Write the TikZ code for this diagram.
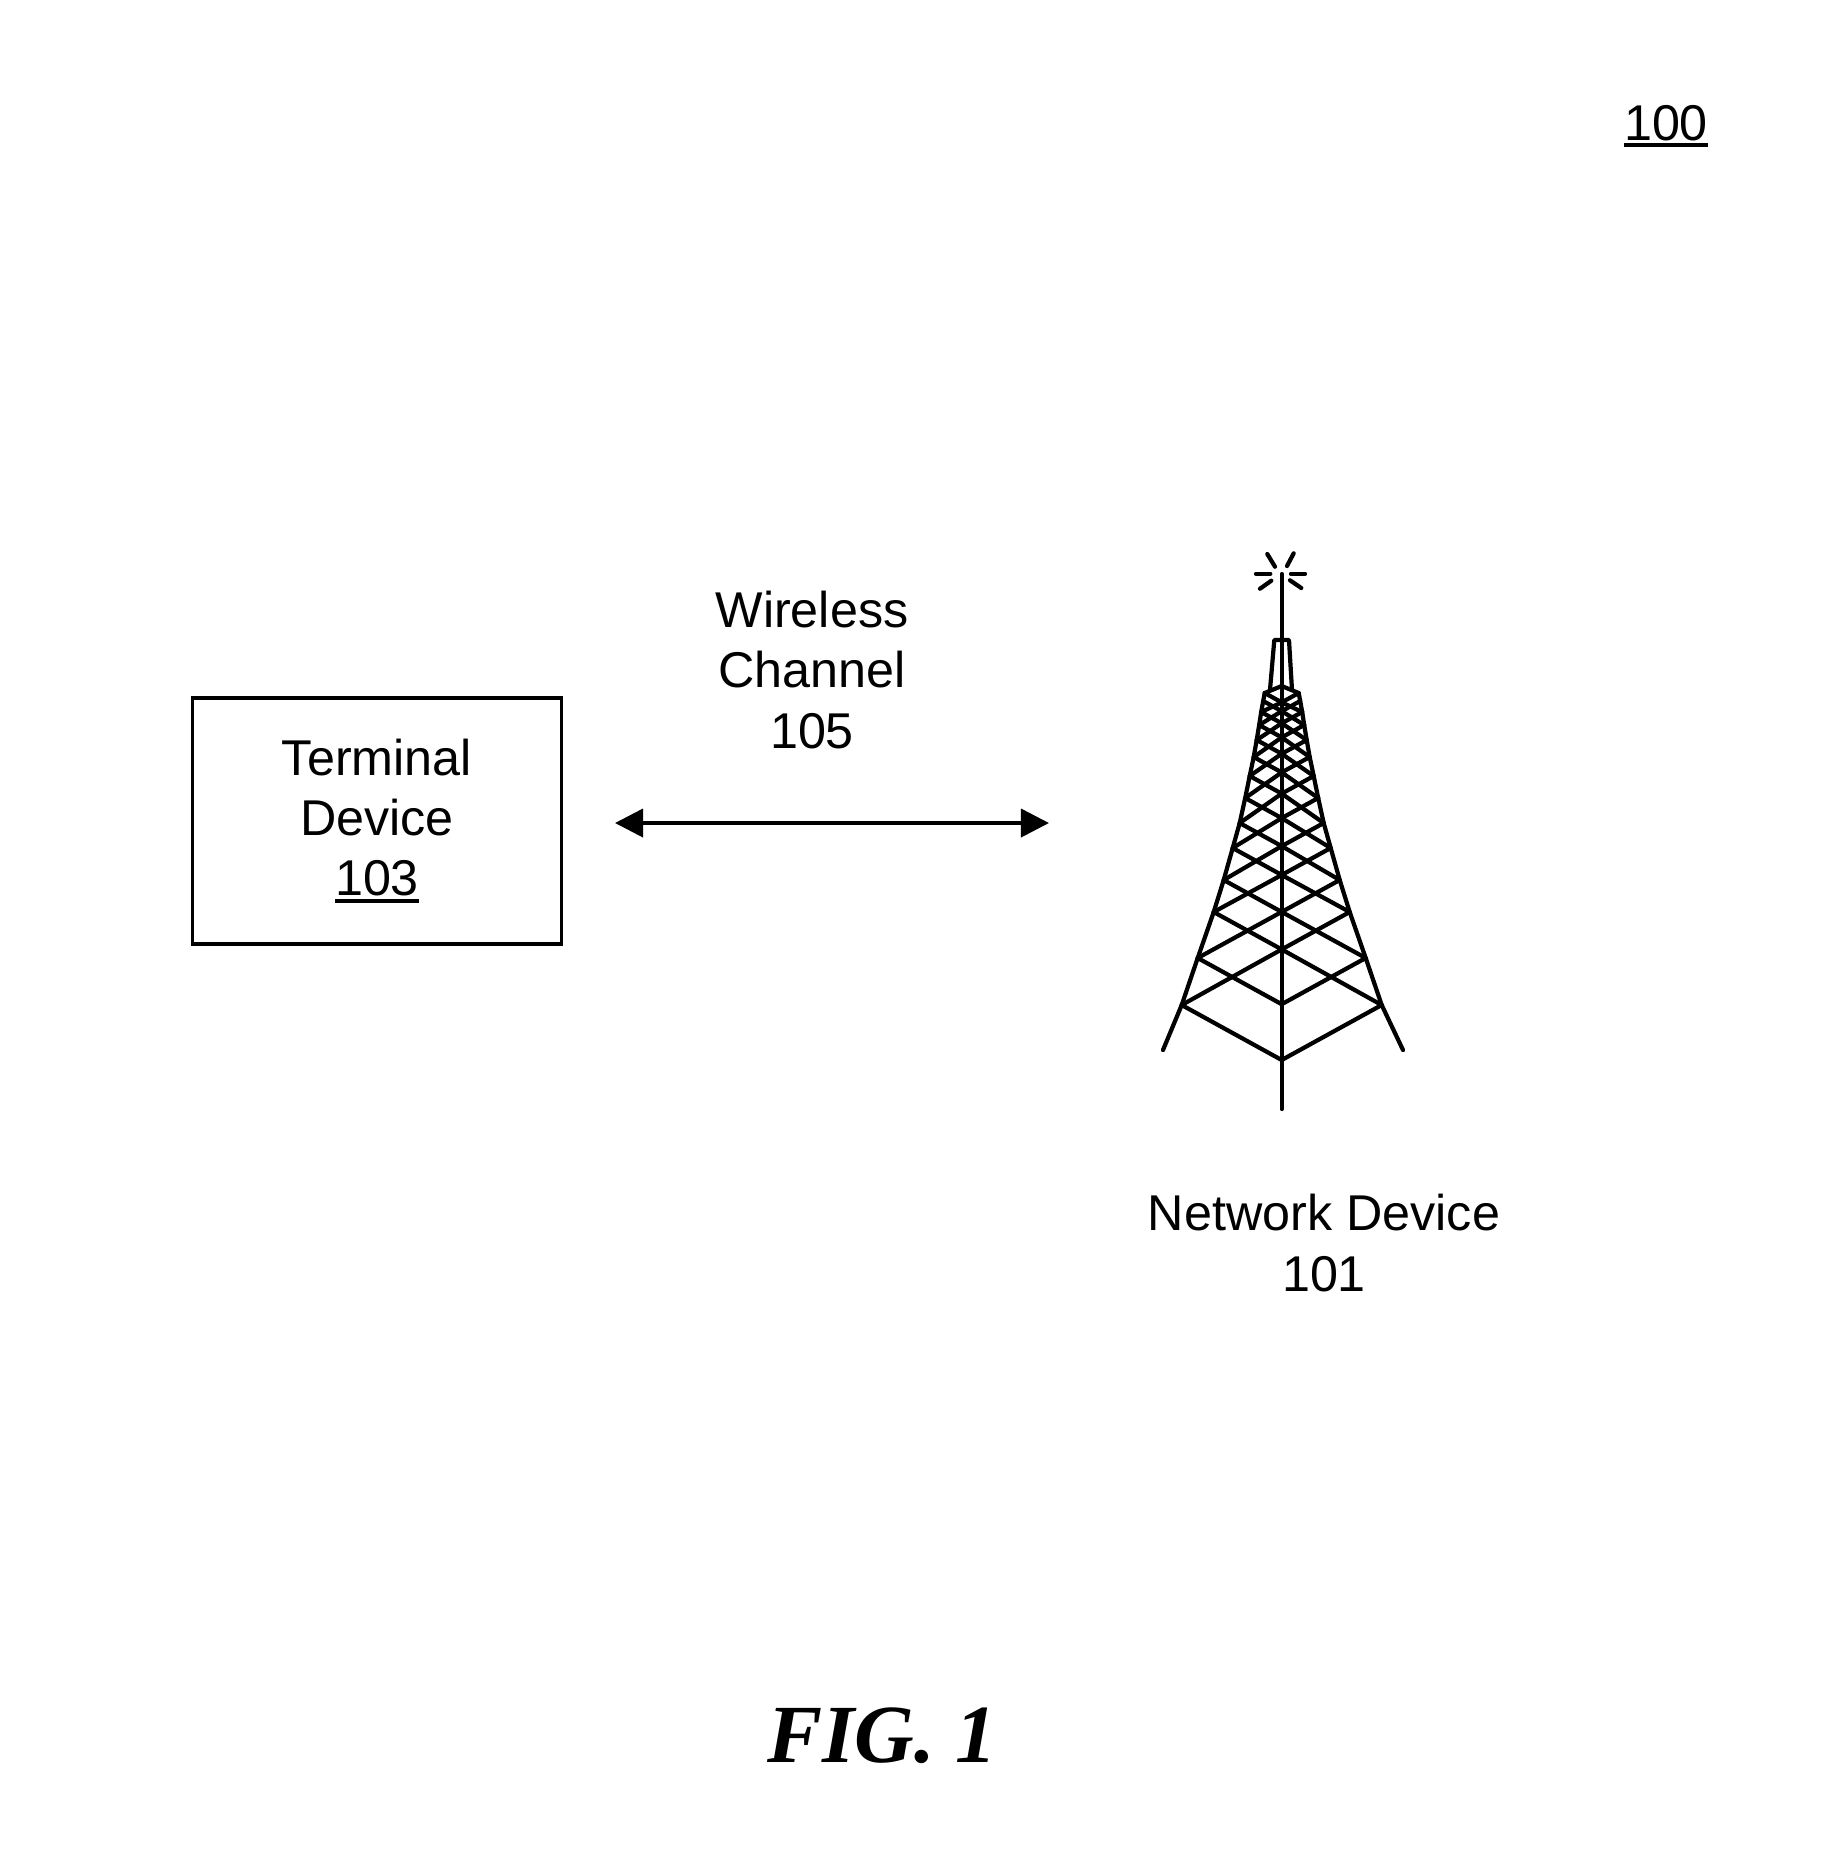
\documentclass[tikz,border=0pt]{standalone}
\usepackage{fontspec}
\setmainfont{Liberation Sans}
\newfontfamily\figfont{Liberation Serif}
\usetikzlibrary{arrows.meta}
\newcommand{\refnum}[1]{\leavevmode\vtop{\hbox{#1}\kern0.8pt\hrule height 1.1pt}}
\begin{document}
\begin{tikzpicture}[
  x=0.01cm, y=-0.01cm,
  font=\fontsize{14.3pt}{17.07pt}\selectfont,
  label/.style={align=center, inner sep=0pt},
  device/.style={draw=black, line width=1.05pt, align=center, inner sep=0pt,
                 minimum width=3.69cm, minimum height=2.46cm},
  link/.style={{Triangle[length=0.28cm,width=0.28cm]}-{Triangle[length=0.28cm,width=0.28cm]}, line width=1.05pt},
  mast/.style={line width=1.2pt, line cap=round, line join=round}
]
  \useasboundingbox (0,0) rectangle (1843,1859);

  \node[label, anchor=base] (ref) at (1666,140) {\refnum{100}};
  \node[device] (terminal) at (377,821) {Terminal\\Device\\\refnum{103}};
  \node[label] (channel) at (812,670) {Wireless\\Channel\\105};
  \node[label] (network) at (1324,1243) {Network Device\\101};
  \node[label, font=\figfont\fontsize{23.5pt}{26pt}\selectfont\bfseries\itshape] (fig) at (882,1736) {FIG. 1};

  \coordinate (linkl) at (615,823);
  \coordinate (linkr) at (1049,823);
  \draw[link] (linkl) -- (linkr);

  % tower rungs: level / half width / height
  \foreach \i/\w/\y in {0/100/1005, 1/84/958, 2/68/912, 3/58/880, 4/49/848, 5/42/823,
                        6/36.5/798, 7/32/776, 8/28/757, 9/25/740, 10/22.5/725, 11/20.5/712, 12/18.5/701, 13/17/693}{
    \coordinate (l\i) at ({1281.7-\w},\y);
    \coordinate (r\i) at ({1281.7+\w},\y);
    \coordinate (c\i) at (1281.7,{\y+0.55*\w});
    \draw[mast] (l\i) -- (c\i) -- (r\i);
  }
  \foreach \i [evaluate=\i as \j using int(\i+2)] in {0,...,11}{
    \draw[mast] (l\i) -- (c\j) -- (r\i);
  }
  \coordinate (apex) at (1281.7,686);
  \draw[mast] (l13) -- (apex) -- (r13);

  % legs
  \coordinate (footl) at (1163,1050);
  \coordinate (footr) at (1403,1050);
  \draw[mast] (footl) -- (l0) -- (l1) -- (l2) -- (l3) -- (l4) -- (l5) -- (l6) -- (l7) -- (l8) -- (l9) -- (l10) -- (l11) -- (l12) -- (l13);
  \draw[mast] (footr) -- (r0) -- (r1) -- (r2) -- (r3) -- (r4) -- (r5) -- (r6) -- (r7) -- (r8) -- (r9) -- (r10) -- (r11) -- (r12) -- (r13);

  % antenna
  \coordinate (top) at (1281.7,574);
  \coordinate (foot) at (1281.7,1109);
  \draw[mast] (top) -- (foot);
  \coordinate (capl) at (1274.3,640);
  \coordinate (capr) at (1289,640);
  \draw[mast] (1270,690) -- (capl) -- (capr) -- (1292,690);

  % spark
  \draw[mast] (1267.3,554) -- (1275,566.7);
  \draw[mast] (1293.7,553.3) -- (1287,566);
  \draw[mast] (1256,573.7) -- (1270.3,573.7);
  \draw[mast] (1291,573.7) -- (1305,573.7);
  \draw[mast] (1260,588.7) -- (1271.3,580.7);
  \draw[mast] (1301.3,588) -- (1290,580.3);
\end{tikzpicture}
\end{document}
